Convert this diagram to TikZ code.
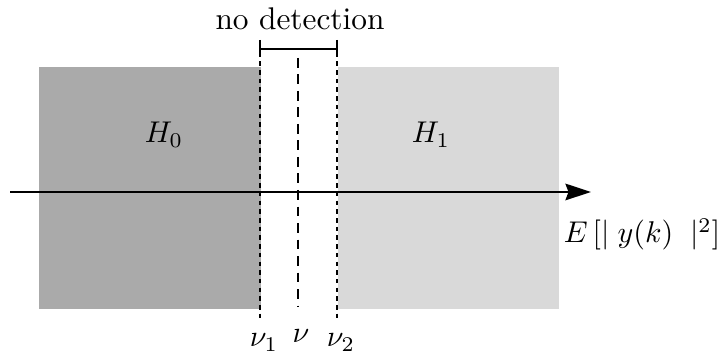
\documentclass[tikz,border=0pt]{standalone}
\usetikzlibrary{arrows.meta}
\definecolor{darkreg}{RGB}{170,170,170}
\definecolor{lightreg}{RGB}{217,217,217}
\begin{document}
\begin{tikzpicture}[x=0.3333pt,y=-0.3333pt,
  region/.style={draw=none,inner sep=0pt,minimum width=#1*0.3333pt,minimum height=242*0.3333pt,anchor=north west},
  thr/.style={line width=0.6pt,dash pattern=on 1.5pt off 1.4pt},
  mid/.style={line width=0.6pt,dash pattern=on 3.3pt off 2.2pt},
  lab/.style={inner sep=0pt,anchor=base,font=\fontsize{10.45}{12.5}\selectfont}]
\useasboundingbox (0,0) rectangle (720,353);
\node[region=222,fill=darkreg] (r0) at (38,66) {};
\node[region=221,fill=lightreg] (r1) at (337,66) {};
\node[lab] (h0) at (164,143) {$H_0$};
\node[lab] (h1) at (431,143) {$H_1$};
% threshold lines
\coordinate (t1a) at (260,44); \coordinate (t1b) at (260,318);
\coordinate (t2a) at (337,44); \coordinate (t2b) at (337,318);
\coordinate (ma) at (298,58); \coordinate (mb) at (298,306);
\draw[thr] (t1a) -- (t1b);
\draw[thr] (t2a) -- (t2b);
\draw[mid] (ma) -- (mb);
% bracket
\coordinate (b1) at (260,49); \coordinate (b2) at (337,49);
\draw[line width=0.7pt] (260,40) -- (260,55) (337,40) -- (337,55);
\draw[line width=0.7pt] (b1) -- (b2);
\node[lab] (nd) at (300,30) {no detection};
% axis
\coordinate (ax0) at (10,192); \coordinate (ax1) at (591,192);
\draw[line width=0.8pt,-{Stealth[length=8.5pt,width=5.5pt,inset=1pt]}] (ax0) -- (ax1);
\node[lab] (el) at (642,243) {$E\,[\mid y(k)\;\mid^2]$};
\node[lab] (n1) at (264,347) {$\nu_1$};
\node[lab] (n) at (301,343) {$\nu$};
\node[lab] (n2) at (341,347) {$\nu_2$};
\end{tikzpicture}
\end{document}
